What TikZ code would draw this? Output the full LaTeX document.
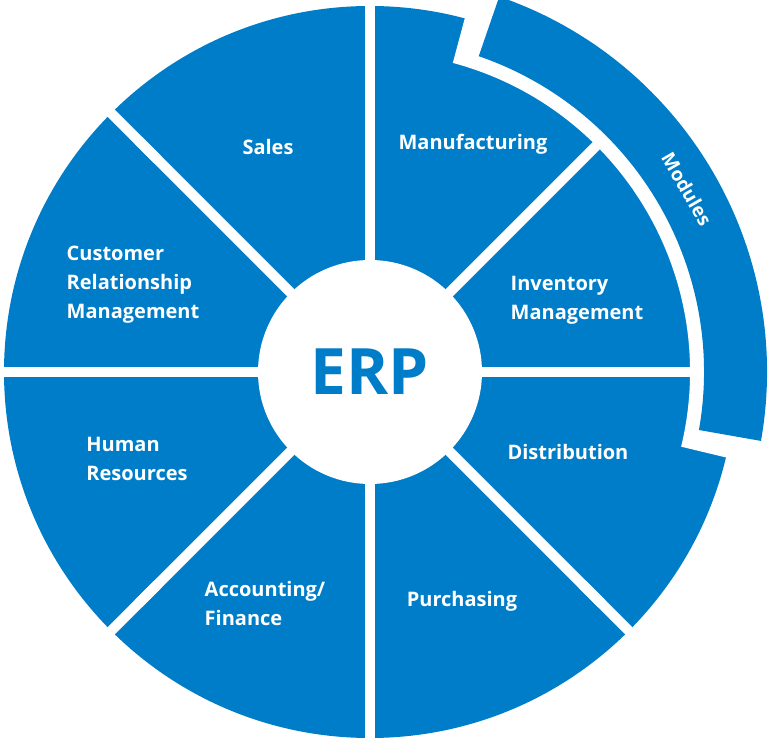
\documentclass[tikz,border=0pt]{standalone}
\usepackage{fontspec}
\setmainfont{Open Sans}
\usepackage{tikz}
\definecolor{erpblue}{RGB}{0,125,200}
\tikzset{
  lbl/.style={text=white,font=\bfseries\fontsize{20}{29}\selectfont,align=left},
  gap/.style={white,line width=10pt}
}
\begin{document}
\begin{tikzpicture}[x=1pt,y=1pt]
  \useasboundingbox (0,0) rectangle (769,737);
  \begin{scope}[shift={(370,365)}]
    % wheel
    \fill[erpblue] (0,0) circle[radius=366];
    \fill[white] (-13.5:320) arc[start angle=-13.5,end angle=75,radius=320]
      -- (75:405) arc[start angle=75,end angle=-13.5,radius=405] -- cycle;
    \fill[erpblue] (-10:334) arc[start angle=-10,end angle=71,radius=334]
      -- (71:397) arc[start angle=71,end angle=-10,radius=397] -- cycle;
    % spokes
    \foreach \a in {0,45,...,315}
      \draw[gap] (0,0) -- (\a:328);
    \foreach \a in {90,135,...,315}
      \draw[gap] (\a:300) -- (\a:380);
    \fill[white] (0,0) circle[radius=112];
    \node[text=erpblue,font=\bfseries\fontsize{64}{70}\selectfont] (erp) at (0,0) {ERP};
    \node[text=white,font=\bfseries\fontsize{19}{20}\selectfont,rotate=-60,inner sep=0pt] (modules) at (30:366) {Modules};
  \end{scope}
  \node[lbl] (sales) at (268,590) {Sales};
  \node[lbl] (manuf) at (473,593) {Manufacturing};
  \node[lbl] (inv) at (577,437) {Inventory\\Management};
  \node[lbl] (dist) at (568,285) {Distribution};
  \node[lbl] (purch) at (462,136) {Purchasing};
  \node[lbl] (acct) at (265,133) {Accounting/\\Finance};
  \node[lbl] (hr) at (137,278) {Human\\Resources};
  \node[lbl] (crm) at (133,452) {Customer\\Relationship\\Management};
\end{tikzpicture}
\end{document}
